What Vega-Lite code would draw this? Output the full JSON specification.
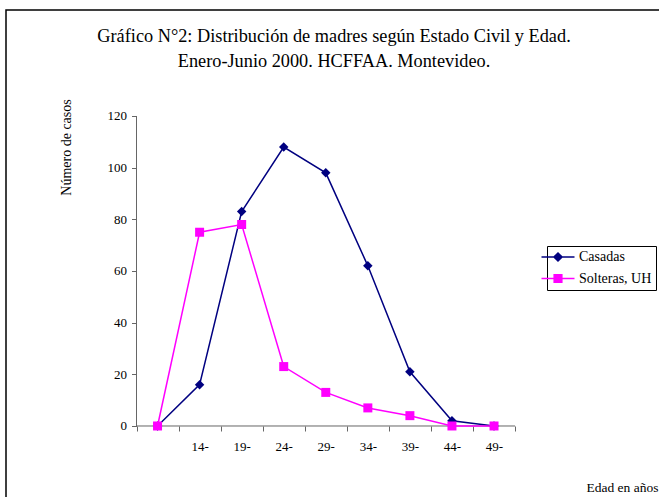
{
  "$schema": "https://vega.github.io/schema/vega-lite/v6.json",
  "width": 660,
  "height": 490,
  "autosize": {"type": "none"},
  "padding": {"left": 6, "top": 10, "right": 0, "bottom": 0},
  "background": "white",
  "config": {
    "font": "Liberation Serif",
    "view": {"stroke": "black", "strokeWidth": 1.5},
    "axis": {"grid": false, "domain": false, "labelFont": "Liberation Serif", "titleFont": "Liberation Serif"},
    "legend": {"labelFont": "Liberation Serif", "titleFont": "Liberation Serif"},
    "title": {"font": "Liberation Serif"}
  },
  "title": {
    "text": ["Gráfico N°2: Distribución de madres según Estado Civil y Edad.", "Enero-Junio 2000. HCFFAA. Montevideo."],
    "anchor": "middle",
    "frame": "group",
    "offset": -61,
    "dx": -2,
    "fontSize": 18.3,
    "fontWeight": "normal",
    "font": "Liberation Serif",
    "lineHeight": 24.5,
    "color": "black"
  },
  "data": {
    "values": [
      {"serie": "Casadas", "idx": 1, "edad": "", "casos": 0},
      {"serie": "Casadas", "idx": 2, "edad": "14-", "casos": 16},
      {"serie": "Casadas", "idx": 3, "edad": "19-", "casos": 83},
      {"serie": "Casadas", "idx": 4, "edad": "24-", "casos": 108},
      {"serie": "Casadas", "idx": 5, "edad": "29-", "casos": 98},
      {"serie": "Casadas", "idx": 6, "edad": "34-", "casos": 62},
      {"serie": "Casadas", "idx": 7, "edad": "39-", "casos": 21},
      {"serie": "Casadas", "idx": 8, "edad": "44-", "casos": 2},
      {"serie": "Casadas", "idx": 9, "edad": "49-", "casos": 0},
      {"serie": "Solteras, UH", "idx": 1, "edad": "", "casos": 0},
      {"serie": "Solteras, UH", "idx": 2, "edad": "14-", "casos": 75},
      {"serie": "Solteras, UH", "idx": 3, "edad": "19-", "casos": 78},
      {"serie": "Solteras, UH", "idx": 4, "edad": "24-", "casos": 23},
      {"serie": "Solteras, UH", "idx": 5, "edad": "29-", "casos": 13},
      {"serie": "Solteras, UH", "idx": 6, "edad": "34-", "casos": 7},
      {"serie": "Solteras, UH", "idx": 7, "edad": "39-", "casos": 4},
      {"serie": "Solteras, UH", "idx": 8, "edad": "44-", "casos": 0},
      {"serie": "Solteras, UH", "idx": 9, "edad": "49-", "casos": 0}
    ]
  },
  "layer": [
    {
      "data": {"values": [{}]},
      "mark": {"type": "rule", "color": "#666666", "strokeWidth": 1},
      "encoding": {
        "x": {
          "datum": 0.5, "type": "quantitative",
          "scale": {"type": "linear", "domain": [-2.603, 13.089], "nice": false, "zero": false},
          "axis": {
            "values": [0.5, 1.5, 2.5, 3.5, 4.5, 5.5, 6.5, 7.5, 8.5, 9.5],
            "labelExpr": "['','14-','19-','24-','29-','34-','39-','44-','49-',''][floor(datum.value)]",
            "labelOffset": 21,
            "labelOverlap": false,
            "labelFlush": false,
            "labelBound": false,
            "labelFont": "Liberation Serif",
            "labelFontSize": 13,
            "labelColor": "black",
            "labelPadding": 9,
            "tickSize": 5,
            "tickColor": "#666666",
            "offset": -74,
            "title": "Edad en años",
            "titleFont": "Liberation Serif",
            "titleFontSize": 13.5,
            "titleFontWeight": "normal",
            "titleColor": "black",
            "titleAnchor": null,
            "titleX": 580,
            "titleY": 65,
            "titleAlign": "left",
            "titleBaseline": "alphabetic"
          }
        },
        "x2": {"datum": 9.5},
        "y": {
          "datum": 0, "type": "quantitative",
          "scale": {"domain": [-28.65, 161.03], "nice": false, "zero": false},
          "axis": {
            "values": [0, 20, 40, 60, 80, 100, 120],
            "labelFont": "Liberation Serif",
            "labelFontSize": 13,
            "labelColor": "black",
            "labelPadding": 5,
            "tickSize": 5,
            "tickColor": "#666666",
            "offset": -130.5,
            "title": "Número de casos",
            "titleFont": "Liberation Serif",
            "titleFontSize": 14,
            "titleFontWeight": "normal",
            "titleColor": "black",
            "titleAngle": 270,
            "titleX": -66.5,
            "titleY": 137,
            "titleAlign": "center",
            "titleBaseline": "alphabetic"
          }
        }
      }
    },
    {
      "data": {"values": [{}]},
      "mark": {"type": "rule", "color": "#666666", "strokeWidth": 1},
      "encoding": {
        "x": {"datum": 0.5, "type": "quantitative", "scale": {"type": "linear", "domain": [-2.603, 13.089], "nice": false, "zero": false}},
        "y": {"datum": 0, "type": "quantitative", "scale": {"domain": [-28.65, 161.03], "nice": false, "zero": false}},
        "y2": {"datum": 120}
      }
    },
    {
      "transform": [{"filter": "datum.serie === 'Casadas'"}],
      "mark": {"type": "line", "strokeWidth": 1.5, "color": "#000080"},
      "encoding": {
        "x": {"field": "idx", "type": "quantitative", "scale": {"type": "linear", "domain": [-2.603, 13.089], "nice": false, "zero": false}},
        "y": {"field": "casos", "type": "quantitative", "scale": {"domain": [-28.65, 161.03], "nice": false, "zero": false}}
      }
    },
    {
      "transform": [{"filter": "datum.serie === 'Casadas'"}],
      "mark": {"type": "point", "filled": true, "opacity": 1, "size": 90, "shape": "diamond", "color": "#000080"},
      "encoding": {
        "x": {"field": "idx", "type": "quantitative", "scale": {"type": "linear", "domain": [-2.603, 13.089], "nice": false, "zero": false}},
        "y": {"field": "casos", "type": "quantitative", "scale": {"domain": [-28.65, 161.03], "nice": false, "zero": false}}
      }
    },
    {
      "transform": [{"filter": "datum.serie === 'Solteras, UH'"}],
      "mark": {"type": "line", "strokeWidth": 1.5, "color": "#ff00ff"},
      "encoding": {
        "x": {"field": "idx", "type": "quantitative", "scale": {"type": "linear", "domain": [-2.603, 13.089], "nice": false, "zero": false}},
        "y": {"field": "casos", "type": "quantitative", "scale": {"domain": [-28.65, 161.03], "nice": false, "zero": false}}
      }
    },
    {
      "transform": [{"filter": "datum.serie === 'Solteras, UH'"}],
      "mark": {"type": "point", "filled": true, "opacity": 1, "size": 81, "shape": "square", "color": "#ff00ff"},
      "encoding": {
        "x": {"field": "idx", "type": "quantitative", "scale": {"type": "linear", "domain": [-2.603, 13.089], "nice": false, "zero": false}},
        "y": {"field": "casos", "type": "quantitative", "scale": {"domain": [-28.65, 161.03], "nice": false, "zero": false}}
      }
    },
    {
      "transform": [{"filter": "false"}],
      "mark": {"type": "point", "filled": true, "opacity": 1, "size": 81, "strokeWidth": 1.5},
      "encoding": {
        "x": {"field": "idx", "type": "quantitative", "scale": {"type": "linear", "domain": [-2.603, 13.089], "nice": false, "zero": false}},
        "y": {"field": "casos", "type": "quantitative", "scale": {"domain": [-28.65, 161.03], "nice": false, "zero": false}},
        "fill": {
          "field": "serie", "type": "nominal", "title": null,
          "scale": {"domain": ["Casadas", "Solteras, UH"], "range": ["#000080", "#ff00ff"]},
          "legend": {
            "title": null, "orient": "none", "legendX": 541, "legendY": 236,
            "strokeColor": "black", "fillColor": "white", "padding": 4, "rowPadding": 6.5,
            "labelFontSize": 14, "labelFont": "Liberation Serif", "labelColor": "black",
            "labelOffset": 14, "symbolSize": 81, "symbolStrokeWidth": 1.5
          }
        },
        "stroke": {
          "field": "serie", "type": "nominal", "title": null,
          "scale": {"domain": ["Casadas", "Solteras, UH"], "range": ["#000080", "#ff00ff"]},
          "legend": {
            "title": null, "orient": "none", "legendX": 541, "legendY": 236,
            "strokeColor": "black", "fillColor": "white", "padding": 4, "rowPadding": 6.5,
            "labelFontSize": 14, "labelFont": "Liberation Serif", "labelColor": "black",
            "labelOffset": 14, "symbolSize": 81, "symbolStrokeWidth": 1.5
          }
        },
        "shape": {
          "field": "serie", "type": "nominal", "title": null,
          "scale": {"domain": ["Casadas", "Solteras, UH"], "range": ["M-3.667,0H3.667M0,-0.9L0.9,0L0,0.9L-0.9,0Z", "M-3.667,0H3.667M-0.85,-0.85H0.85V0.85H-0.85Z"]},
          "legend": {
            "title": null, "orient": "none", "legendX": 541, "legendY": 236,
            "strokeColor": "black", "fillColor": "white", "padding": 4, "rowPadding": 6.5,
            "labelFontSize": 14, "labelFont": "Liberation Serif", "labelColor": "black",
            "labelOffset": 14, "symbolSize": 81, "symbolStrokeWidth": 1.5
          }
        }
      }
    }
  ]
}
